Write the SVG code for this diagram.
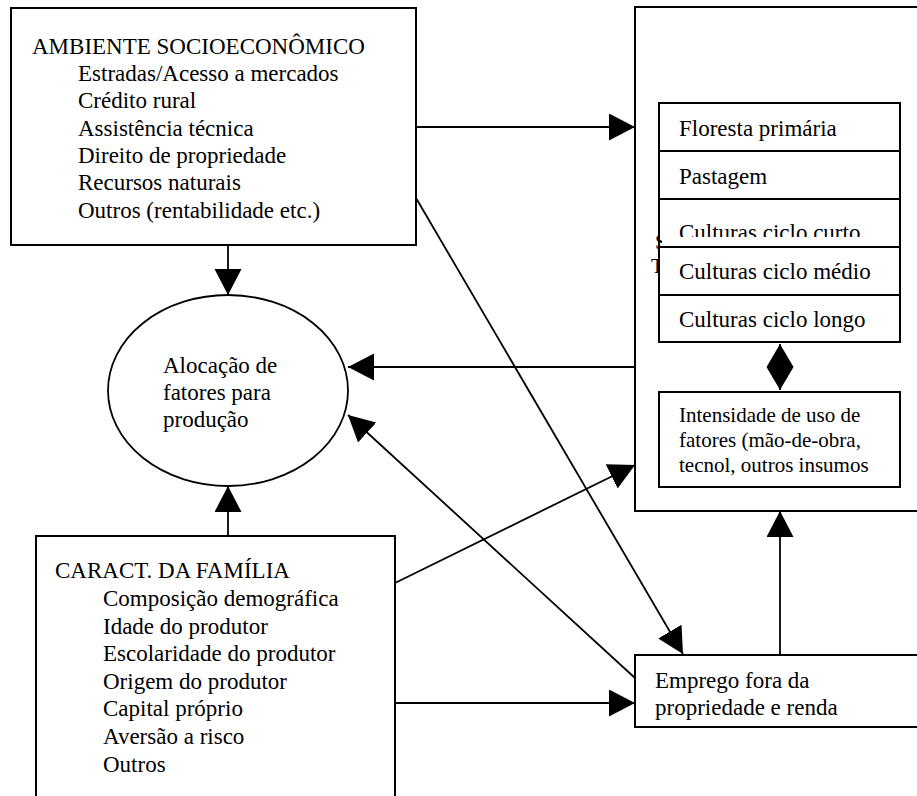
<svg xmlns="http://www.w3.org/2000/svg" width="917" height="796" viewBox="0 0 917 796">
<style>
.box{fill:#fff;stroke:#000;stroke-width:2}
.t{font-family:"Liberation Serif","Times New Roman",serif;font-size:23px;fill:#000}
.ts{font-family:"Liberation Serif","Times New Roman",serif;font-size:21px;fill:#000}
.c{fill:none;stroke:#000;stroke-width:1.8}
</style>
<defs>
<marker id="ah" markerUnits="userSpaceOnUse" markerWidth="27" markerHeight="28" refX="26" refY="13.5" orient="auto-start-reverse">
<path d="M0,0 L26,13.5 L0,27 z" fill="#000"/>
</marker>
<marker id="ahs" markerUnits="userSpaceOnUse" markerWidth="24" markerHeight="28" refX="23" refY="13.5" orient="auto-start-reverse">
<path d="M0,0 L23,13.5 L0,27 z" fill="#000"/>
</marker>
<clipPath id="clipCurto"><rect x="659" y="199" width="241" height="38"/></clipPath>
<clipPath id="clipS"><rect x="640" y="230" width="22" height="20"/></clipPath>
</defs>

<g id="ambiente">
<rect class="box" x="11" y="8" width="405" height="237"/>
<text class="t" x="32" y="54">AMBIENTE SOCIOECONÔMICO</text>
<text class="t" x="78" y="81">Estradas/Acesso a mercados</text>
<text class="t" x="78" y="108">Crédito rural</text>
<text class="t" x="78" y="136">Assistência técnica</text>
<text class="t" x="78" y="163">Direito de propriedade</text>
<text class="t" x="78" y="190">Recursos naturais</text>
<text class="t" x="78" y="218">Outros (rentabilidade etc.)</text>
</g>

<g id="alocacao">
<ellipse cx="228" cy="390.5" rx="120" ry="95.5" fill="#fff" stroke="#000" stroke-width="1.8"/>
<text class="t" x="163" y="373">Alocação de</text>
<text class="t" x="163" y="400">fatores para</text>
<text class="t" x="163" y="427">produção</text>
</g>

<g id="familia">
<rect class="box" x="36" y="536" width="359" height="280"/>
<text class="t" x="55" y="578">CARACT. DA FAMÍLIA</text>
<text class="t" x="103" y="606">Composição demográfica</text>
<text class="t" x="103" y="634">Idade do produtor</text>
<text class="t" x="103" y="661">Escolaridade do produtor</text>
<text class="t" x="103" y="689">Origem do produtor</text>
<text class="t" x="103" y="716">Capital próprio</text>
<text class="t" x="103" y="744">Aversão a risco</text>
<text class="t" x="103" y="772">Outros</text>
</g>

<g id="sistema">
<rect class="box" x="635" y="7" width="300" height="504"/>
<text class="ts" x="655" y="249" clip-path="url(#clipS)">S</text>
<text class="ts" x="651" y="273">T</text>
</g>

<g id="floresta">
<rect class="box" x="659" y="103" width="241" height="48"/>
<text class="t" x="679" y="136">Floresta primária</text>
</g>
<g id="pastagem">
<rect class="box" x="659" y="151" width="241" height="48"/>
<text class="t" x="679" y="184">Pastagem</text>
</g>
<g id="curto">
<rect x="659" y="199" width="241" height="38" fill="#fff"/>
<line x1="659" y1="199" x2="900" y2="199" stroke="#000" stroke-width="2"/>
<line x1="659" y1="199" x2="659" y2="247" stroke="#000" stroke-width="2"/>
<line x1="900" y1="199" x2="900" y2="247" stroke="#000" stroke-width="2"/>
<text class="t" x="679" y="239.5" clip-path="url(#clipCurto)">Culturas ciclo curto</text>
</g>
<g id="medio">
<rect class="box" x="659" y="247" width="241" height="48"/>
<text class="t" x="679" y="279">Culturas ciclo médio</text>
</g>
<g id="longo">
<rect class="box" x="659" y="295" width="241" height="47"/>
<text class="t" x="679" y="327">Culturas ciclo longo</text>
</g>
<g id="intensidade">
<rect class="box" x="659" y="392" width="241" height="95"/>
<text class="ts" x="679" y="422">Intensidade de uso de</text>
<text class="ts" x="679" y="447">fatores (mão-de-obra,</text>
<text class="ts" x="679" y="472">tecnol, outros insumos</text>
</g>

<g id="emprego">
<rect class="box" x="635" y="655" width="300" height="72"/>
<text class="t" x="655" y="688">Emprego fora da</text>
<text class="t" x="655" y="715">propriedade e renda</text>
</g>

<g id="connectors">
<path class="c" d="M228,245 L228,295" marker-end="url(#ah)"/>
<path class="c" d="M228,536 L228,486" marker-end="url(#ah)"/>
<path class="c" d="M416,127 L635,127" marker-end="url(#ah)"/>
<path class="c" d="M635,367 L348,367" marker-end="url(#ah)"/>
<path class="c" d="M635,678 L348,415" marker-end="url(#ah)"/>
<path class="c" d="M395,703 L635,703" marker-end="url(#ah)"/>
<path class="c" d="M395,583 L635,465" marker-end="url(#ah)"/>
<path class="c" d="M416,198 L683,654" marker-end="url(#ah)"/>
<path class="c" d="M780,655 L780,511" marker-end="url(#ah)"/>
<path class="c" d="M780,344 L780,390" marker-start="url(#ahs)" marker-end="url(#ahs)"/>
</g>
</svg>
